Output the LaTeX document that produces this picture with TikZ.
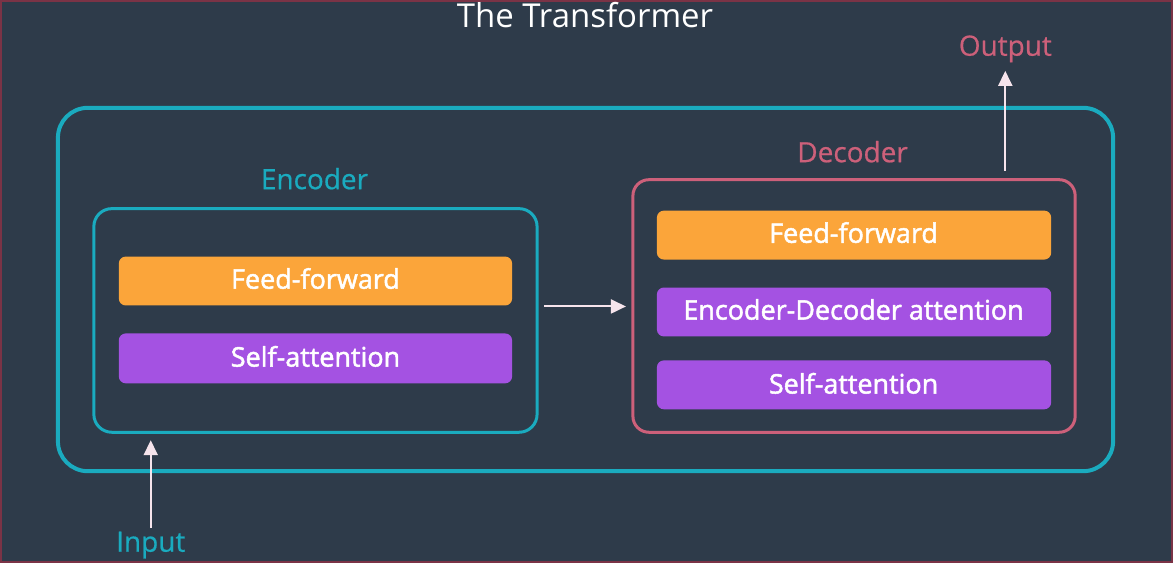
\documentclass[tikz,border=0pt]{standalone}
\usepackage{fontspec}
\setmainfont{Open Sans}
\newfontfamily\semib[FakeBold=1.8]{Open Sans}
\newfontfamily\medf[FakeBold=0.6]{Open Sans}
\usetikzlibrary{arrows.meta}
\definecolor{bg}{HTML}{2E3B4A}
\definecolor{frame}{HTML}{7B3346}
\definecolor{cyanc}{HTML}{1AABBF}
\definecolor{pinkc}{HTML}{CD607A}
\definecolor{orangec}{HTML}{FBA53A}
\definecolor{purplec}{HTML}{A452E2}
\definecolor{arrowc}{HTML}{F6E4EC}
\begin{document}
\begin{tikzpicture}[x=1pt,y=-1pt,
  layerbox/.style={rounded corners=7pt},
  ffbox/.style={layerbox,fill=orangec},
  attbox/.style={layerbox,fill=purplec},
  ltext/.style={text=white,font=\semib\fontsize{27}{30}\selectfont},
  arr/.style={draw=arrowc,line width=2pt,-{Triangle[length=15pt,width=14pt]}},
  lbl/.style={font=\medf\fontsize{28}{32}\selectfont}
]
\fill[bg] (0,0) rectangle (1173,562);
\draw[frame,line width=2pt] (0,0) rectangle (1173,562);
\useasboundingbox (0,0) rectangle (1173,562);
\node[text=white,font=\fontsize{33}{36}\selectfont] (title) at (585,14) {The Transformer};
% outer box
\draw[cyanc,line width=4pt,rounded corners=30pt] (57,107) rectangle (1114,471);
% encoder
\node[lbl,text=cyanc] (enclbl) at (314,178) {Encoder};
\draw[cyanc,line width=3pt,rounded corners=18pt] (93,208) rectangle (537,432);
\coordinate (encR) at (544,306);
\coordinate (encB) at (150,440);
\path[ffbox] (118,256) rectangle (512,305);
\node[ltext] (encff) at (315,278) {Feed-forward};
\path[attbox] (118,333) rectangle (512,383);
\node[ltext] (encsa) at (315,356) {Self-attention};
% decoder
\node[lbl,text=pinkc] (declbl) at (853,151) {Decoder};
\draw[pinkc,line width=3pt,rounded corners=16pt] (633,179) rectangle (1076,432);
\coordinate (decL) at (626,306);
\coordinate (decT) at (1006,170);
\path[ffbox] (657,210) rectangle (1052,259);
\node[ltext] (decff) at (854,232) {Feed-forward};
\path[attbox] (657,287) rectangle (1052,336);
\node[ltext] (deced) at (854,309) {Encoder-Decoder attention};
\path[attbox] (657,360) rectangle (1052,409);
\node[ltext] (decsa) at (854,383) {Self-attention};
% labels
\node[lbl,text=pinkc] (out) at (1006,48) {Output};
\node[lbl,text=cyanc] (in) at (150,545) {Input};
\coordinate (outB) at (1006,70);
\coordinate (inT) at (150,528);
% arrows
\draw[arr] (encR) -- (decL);
\draw[arr] (decT) -- (outB);
\draw[arr] (inT) -- (encB);
\end{tikzpicture}
\end{document}
